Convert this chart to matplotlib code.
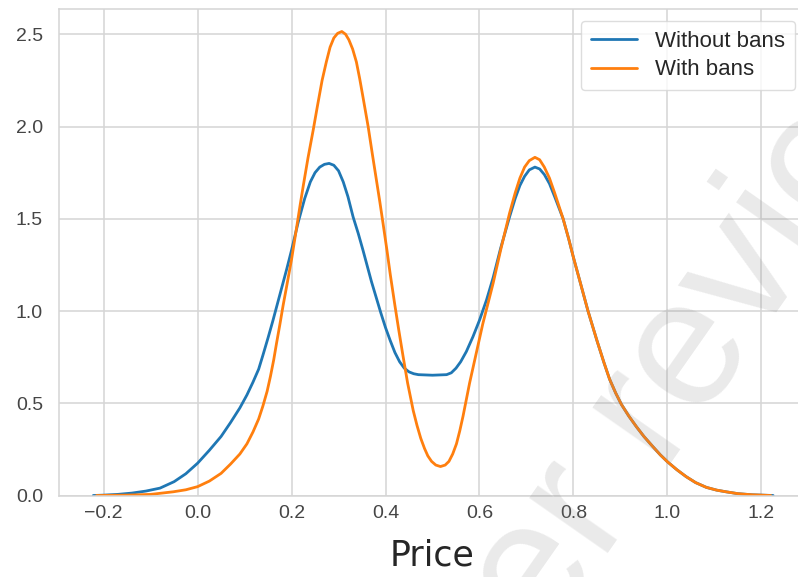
#!/usr/bin/env python3
"""
plot.py - price density with and without bans
"""

import matplotlib
matplotlib.use("Agg")
import matplotlib.pyplot as plt
import seaborn as sns

# density curves (price, density)
price_without = [-0.222, -0.2, -0.17, -0.14, -0.11, -0.08, -0.05, -0.025, 0.0, 0.025,
                 0.05, 0.07, 0.09, 0.105, 0.118, 0.13, 0.139, 0.15, 0.16, 0.17,
                 0.18, 0.19, 0.2, 0.214, 0.228, 0.24, 0.25, 0.26, 0.27, 0.28,
                 0.29, 0.30, 0.31, 0.32, 0.331, 0.342, 0.352, 0.37, 0.39, 0.40,
                 0.41, 0.42, 0.43, 0.44, 0.45, 0.46, 0.47, 0.5, 0.53, 0.54,
                 0.55, 0.56, 0.572, 0.586, 0.6, 0.615, 0.629, 0.645, 0.664, 0.676,
                 0.686, 0.696, 0.706, 0.718, 0.728, 0.738, 0.749, 0.76, 0.778, 0.79,
                 0.8, 0.815, 0.831, 0.85, 0.865, 0.877, 0.89, 0.902, 0.918, 0.934,
                 0.95, 0.969, 0.985, 1.0, 1.02, 1.04, 1.06, 1.083, 1.105, 1.125,
                 1.15, 1.18, 1.225]
dens_without = [0.0, 0.002, 0.006, 0.013, 0.024, 0.04, 0.075, 0.118, 0.175, 0.245,
                0.32, 0.395, 0.475, 0.545, 0.615, 0.685, 0.76, 0.855, 0.945, 1.04,
                1.135, 1.23, 1.33, 1.48, 1.61, 1.70, 1.75, 1.78, 1.795, 1.80,
                1.79, 1.76, 1.70, 1.62, 1.51, 1.42, 1.33, 1.16, 0.99, 0.91,
                0.84, 0.775, 0.725, 0.69, 0.67, 0.66, 0.655, 0.652, 0.655, 0.665,
                0.69, 0.725, 0.78, 0.86, 0.95, 1.06, 1.18, 1.34, 1.51, 1.61,
                1.68, 1.73, 1.765, 1.78, 1.77, 1.74, 1.69, 1.62, 1.5, 1.39,
                1.29, 1.15, 1.0, 0.84, 0.72, 0.63, 0.555, 0.494, 0.43, 0.373,
                0.32, 0.265, 0.22, 0.183, 0.14, 0.102, 0.07, 0.044, 0.029, 0.02,
                0.01, 0.004, 0.0]

price_with = [-0.215, -0.15, -0.1, -0.052, -0.025, 0.0, 0.025, 0.05, 0.07, 0.09,
              0.105, 0.118, 0.13, 0.139, 0.148, 0.155, 0.162, 0.168, 0.175, 0.182,
              0.19, 0.2, 0.21, 0.218, 0.225, 0.235, 0.246, 0.255, 0.265, 0.274,
              0.282, 0.29, 0.298, 0.307, 0.315, 0.322, 0.33, 0.338, 0.345, 0.352,
              0.363, 0.372, 0.38, 0.388, 0.395, 0.403, 0.41, 0.42, 0.428, 0.437,
              0.447, 0.459, 0.467, 0.475, 0.483, 0.49, 0.498, 0.507, 0.517, 0.527,
              0.535, 0.543, 0.551, 0.558, 0.565, 0.572, 0.579, 0.586, 0.593, 0.6,
              0.607, 0.618, 0.629, 0.645, 0.664, 0.676, 0.686, 0.696, 0.706, 0.718,
              0.728, 0.738, 0.749, 0.76, 0.778, 0.79, 0.8, 0.815, 0.831, 0.85,
              0.865, 0.877, 0.89, 0.902, 0.918, 0.934, 0.95, 0.969, 0.985, 1.0,
              1.02, 1.04, 1.06, 1.083, 1.105, 1.125, 1.15, 1.18, 1.22]
dens_with = [0.0, 0.002, 0.006, 0.02, 0.031, 0.048, 0.078, 0.12, 0.17, 0.225,
             0.28, 0.345, 0.415, 0.485, 0.565, 0.645, 0.735, 0.825, 0.925, 1.03,
             1.14, 1.28, 1.44, 1.57, 1.68, 1.83, 1.98, 2.11, 2.25, 2.35,
             2.43, 2.48, 2.505, 2.515, 2.50, 2.47, 2.42, 2.35, 2.26, 2.16,
             2.0, 1.85, 1.72, 1.59, 1.47, 1.33, 1.2, 1.03, 0.90, 0.76,
             0.61, 0.46, 0.38, 0.31, 0.255, 0.215, 0.185, 0.165, 0.157, 0.165,
             0.185, 0.225, 0.28, 0.35, 0.43, 0.52, 0.61, 0.69, 0.77, 0.85,
             0.93, 1.04, 1.15, 1.33, 1.53, 1.64, 1.72, 1.78, 1.815, 1.833,
             1.82, 1.78, 1.72, 1.64, 1.5, 1.39, 1.29, 1.15, 1.0, 0.84,
             0.72, 0.63, 0.555, 0.494, 0.43, 0.373, 0.32, 0.265, 0.22, 0.183,
             0.14, 0.102, 0.07, 0.044, 0.029, 0.02, 0.01, 0.004, 0.0]

x_ticks = [-0.2, 0.0, 0.2, 0.4, 0.6, 0.8, 1.0, 1.2]
y_ticks = [0.0, 0.5, 1.0, 1.5, 2.0, 2.5]

sns.set_style("whitegrid")
plt.rcParams['font.family'] = ['Liberation Sans', 'DejaVu Sans']


def main():
    fig = plt.figure(figsize=(7.98, 5.77), dpi=100)
    W, H = 798.0, 577.0
    # axes runs past the right edge, like the cropped original
    ax = fig.add_axes([59 / W, (H - 495.5) / H, 747 / W, 486.5 / H])

    ax.plot(price_without, dens_without, color='#1f77b4', linewidth=2.0,
            label='Without bans', solid_joinstyle='round')
    ax.plot(price_with, dens_with, color='#ff7f0e', linewidth=2.0,
            label='With bans', solid_joinstyle='round')

    ax.set_xlim(-0.295, 1.295)
    ax.set_ylim(0, 2.637)
    ax.set_xticks(x_ticks)
    ax.set_yticks(y_ticks)
    ax.set_xticklabels([f'{v:.1f}'.replace('-', '\u2212') for v in x_ticks])
    ax.set_yticklabels([f'{v:.1f}' for v in y_ticks])
    ax.tick_params(axis='x', labelsize=14, pad=6.5, length=0, colors='.27')
    ax.tick_params(axis='y', labelsize=14, pad=11.5, length=0, colors='.27')
    ax.grid(True, color='#d5d5d5', linewidth=1.1)
    for s in ax.spines.values():
        s.set_color('#d5d5d5')
        s.set_linewidth(1.1)

    ax.set_xlabel('Price', fontsize=25, family='DejaVu Sans', color='.15',
                  labelpad=12.5)

    fig.legend(loc='upper right', bbox_to_anchor=(795 / W, 1 - 20.7 / H),
               bbox_transform=fig.transFigure, borderaxespad=0, fontsize=16,
               handlelength=2.1, borderpad=0.45, labelspacing=0.35,
               frameon=True, facecolor='white', edgecolor='#d5d5d5',
               framealpha=0.8)

    # faint diagonal watermark seen in the source image
    fig.text(429 / W, -232.5 / H, 'peer review', fontsize=130, rotation=55,
             rotation_mode='anchor', ha='left', va='baseline',
             color='0.5', alpha=0.17, family='Liberation Sans')

    fig.savefig('out.png', dpi=100)
    plt.close(fig)


if __name__ == "__main__":
    main()
